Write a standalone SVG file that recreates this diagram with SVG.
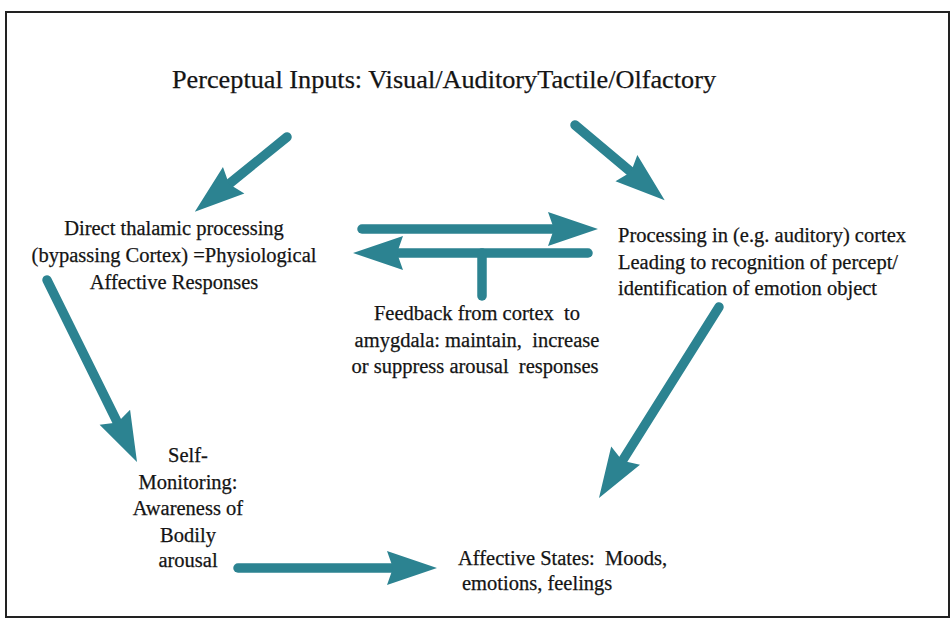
<svg xmlns="http://www.w3.org/2000/svg" width="951" height="620" viewBox="0 0 951 620">
<defs>
<style>
.t{font-family:"Liberation Serif","Times New Roman",serif;font-size:20.5px;fill:#141414;stroke:#141414;stroke-width:0.25;white-space:pre}
.c{text-anchor:middle}
.a{fill:none;stroke:#2c8391;stroke-width:9.5;stroke-linecap:round}
</style>
<marker id="h" markerUnits="userSpaceOnUse" viewBox="-10 -20 60 40" markerWidth="60" markerHeight="40" refX="0" refY="0" orient="auto" overflow="visible">
<path d="M-6,-17 L44,0 L-6,17 L0,0 Z" fill="#2c8391"/>
</marker>
</defs>
<rect x="0" y="0" width="951" height="620" fill="#fff"/>
<rect x="6" y="12" width="943" height="605" fill="none" stroke="#222" stroke-width="2"/>
<g id="connectors">
<line class="a" x1="287" y1="137" x2="229" y2="184" marker-end="url(#h)"/>
<line class="a" x1="575" y1="125" x2="631" y2="172" marker-end="url(#h)"/>
<line class="a" x1="362" y1="229" x2="554" y2="229" marker-end="url(#h)"/>
<line class="a" x1="588" y1="253" x2="397" y2="253" marker-end="url(#h)"/>
<line class="a" x1="482" y1="253" x2="482" y2="296"/>
<line class="a" x1="47" y1="280" x2="117.5" y2="422.6" marker-end="url(#h)"/>
<line class="a" x1="719" y1="307" x2="622.4" y2="460.7" marker-end="url(#h)"/>
<line class="a" x1="238" y1="568" x2="393" y2="568" marker-end="url(#h)"/>
</g>
<g id="inputs">
<text class="t" x="172" y="88" style="font-size:26px" textLength="544" lengthAdjust="spacingAndGlyphs">Perceptual Inputs: Visual/AuditoryTactile/Olfactory</text>
</g>
<g id="thalamic">
<text class="t c" x="174" y="235">Direct thalamic processing</text>
<text class="t c" x="174" y="262">(bypassing Cortex) =Physiological</text>
<text class="t c" x="174" y="289">Affective Responses</text>
</g>
<g id="cortex">
<text class="t" x="618" y="242">Processing in (e.g. auditory) cortex</text>
<text class="t" x="618" y="269">Leading to recognition of percept/</text>
<text class="t" x="618" y="295">identification of emotion object</text>
</g>
<g id="feedback">
<text class="t c" x="477" y="320">Feedback from cortex  to</text>
<text class="t c" x="477" y="347">amygdala: maintain,  increase</text>
<text class="t c" x="475" y="373">or suppress arousal  responses</text>
</g>
<g id="self-monitoring">
<text class="t c" x="188" y="462">Self-</text>
<text class="t c" x="188" y="489">Monitoring:</text>
<text class="t c" x="188" y="515">Awareness of</text>
<text class="t c" x="188" y="542">Bodily</text>
<text class="t c" x="188" y="567">arousal</text>
</g>
<g id="affective-states">
<text class="t" x="458" y="565">Affective States:  Moods,</text>
<text class="t" x="462" y="590">emotions, feelings</text>
</g>
</svg>
